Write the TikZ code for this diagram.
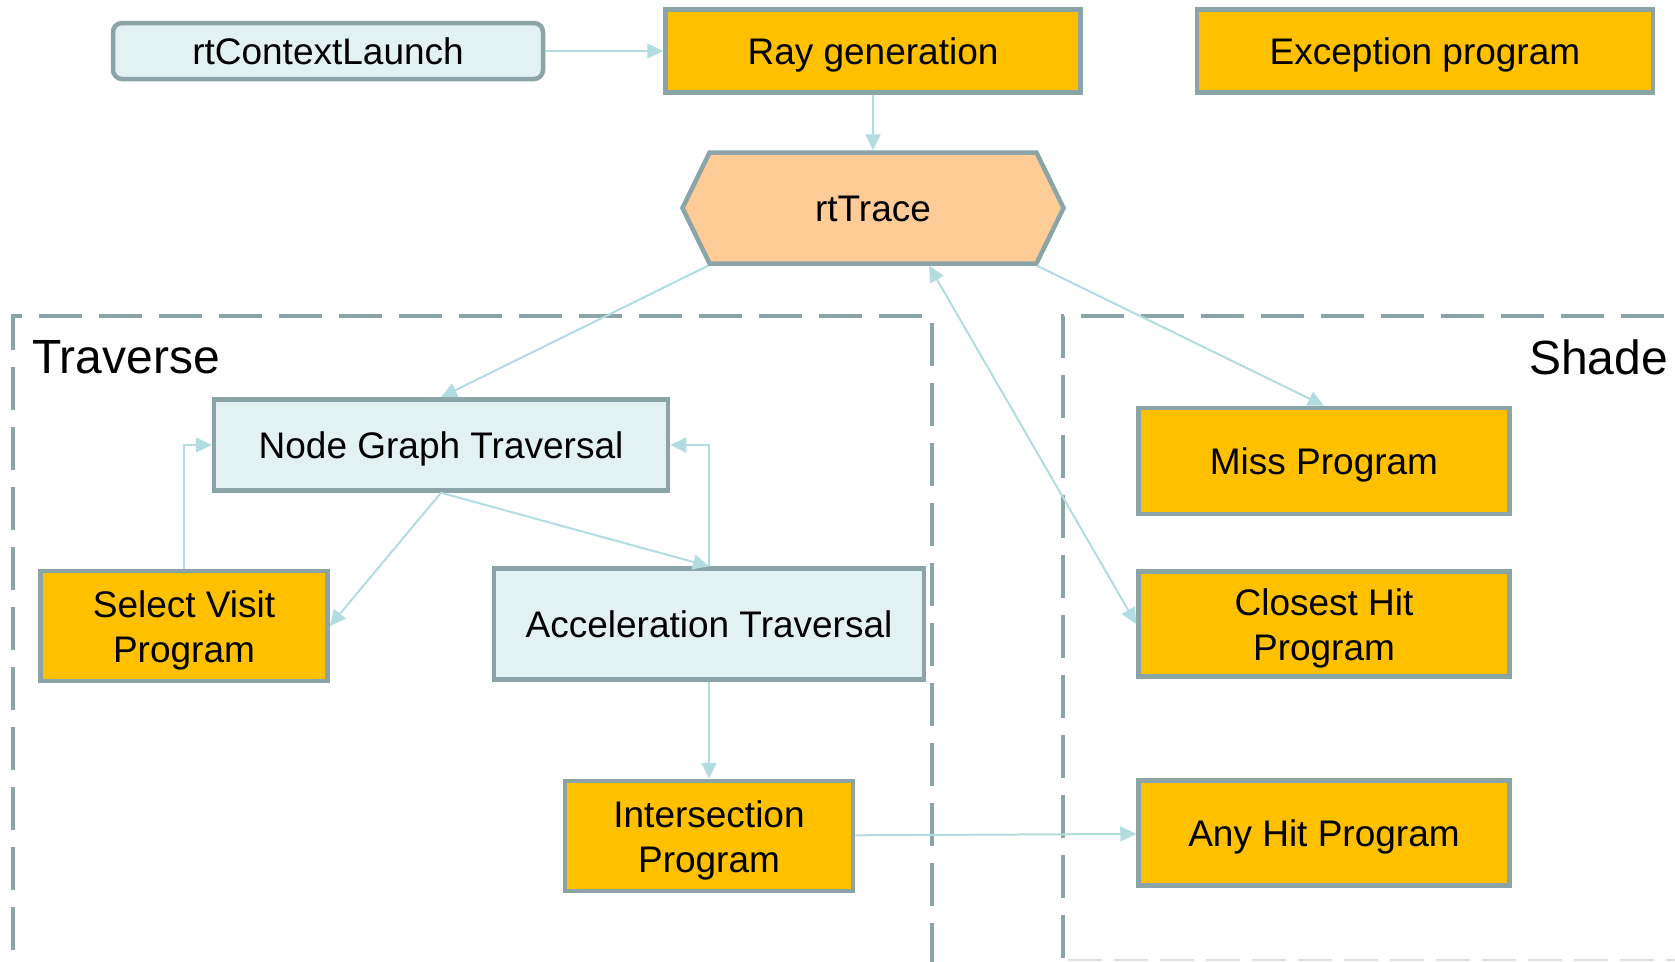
\documentclass[tikz,border=0pt]{standalone}
\usepackage{fontspec}
\setmainfont{Liberation Sans}
\usetikzlibrary{arrows.meta,shapes.symbols,calc}

\definecolor{boxgold}{HTML}{FFC000}
\definecolor{boxedge}{HTML}{8BA4A7}
\definecolor{boxpale}{HTML}{E2F2F2}
\definecolor{boxpeach}{HTML}{FFCB97}
\definecolor{flowline}{HTML}{B2DCE0}

% box text, set a little low as in the slide
\newcommand{\boxtext}[1]{\raisebox{-4.5pt}[\height][\depth]{\begin{tabular}{@{}c@{}}#1\end{tabular}}}

\begin{document}
\begin{tikzpicture}[x=1pt,y=-1pt,
every node/.append style = {font=\fontsize{37}{45}\selectfont, inner sep=0pt},
prog/.style = {draw=boxedge, line width=4.5pt, fill=boxgold},
stage/.style = {draw=boxedge, line width=4.5pt, fill=boxpale},
group/.style = {draw=boxedge, line width=4.5pt, dash pattern=on 43pt off 17pt},
flow/.style = {draw=flowline, line width=2pt, -{Triangle[length=16pt,width=15pt]}},
title/.style = {font=\fontsize{48}{56}\selectfont, anchor=west}]

        \useasboundingbox (0,0) rectangle (1675,961);

        % dashed groups
        \draw[group] (13,1010) -- (13,316) -- (932,316) -- (932,1010);
        \draw[group] (1063,958) -- (1063,316) -- (1720,316);
        \draw[gray!25, line width=2pt, dash pattern=on 34pt off 12pt] (1068,960) -- (1675,960);
        \node[title] (trav) at (32,357) {Traverse};
        \node[title] (shd) at (1529,357) {Shade};

        % top row
        \node[stage, rounded corners=9pt, minimum width=430pt, minimum height=56pt]
            (launch) at (328,51) {\boxtext{rtContextLaunch}};
        \node[prog, minimum width=415pt, minimum height=83pt] (raygen) at (873,51) {\boxtext{Ray generation}};
        \node[prog, minimum width=456pt, minimum height=83pt] (except) at (1425,51) {\boxtext{Exception program}};

        \node[draw=boxedge, line width=4.5pt, fill=boxpeach, shape=signal,
            signal to=west and east, signal pointer angle=128,
            minimum width=381pt, minimum height=111pt] (trace) at (873,208) {\boxtext{rtTrace}};

        % traverse
        \node[stage, minimum width=454pt, minimum height=91pt] (ngt) at (441,445) {\boxtext{Node Graph Traversal}};
        \node[prog, minimum width=287pt, minimum height=110pt] (visit) at (184,626) {\boxtext{Select Visit\\Program}};
        \node[stage, minimum width=430pt, minimum height=111pt] (accel) at (709,624) {\boxtext{Acceleration Traversal}};
        \node[prog, minimum width=288pt, minimum height=110pt] (isect) at (709,836) {\boxtext{Intersection\\Program}};

        % shade
        \node[prog, minimum width=371pt, minimum height=106pt] (miss) at (1324,461) {\boxtext{Miss Program}};
        \node[prog, minimum width=371pt, minimum height=105pt] (closest) at (1324,624) {\boxtext{Closest Hit\\Program}};
        \node[prog, minimum width=371pt, minimum height=105pt] (anyhit) at (1324,833) {\boxtext{Any Hit Program}};

        % connectors
        \draw[flow] (launch) -- (raygen);
        \draw[flow] (raygen) -- (trace);
        \draw[flow] ($(trace.south)+(-165,0)$) -- (ngt.north);
        \draw[flow] ($(trace.south)+(164,0)$) -- (miss.north);
        \draw[flow, {Triangle[length=16pt,width=15pt]}-{Triangle[length=16pt,width=15pt]}]
            ($(trace.south)+(56,0)$) -- (closest.west);
        \draw[flow] (ngt.south) -- (visit.east);
        \draw[flow] (ngt.south) -- (accel.north);
        \draw[flow] (visit.north) |- (ngt.west);
        \draw[flow] (accel.north) |- (ngt.east);
        \draw[flow] (accel) -- (isect);
        \draw[flow] (isect) -- (anyhit);

\end{tikzpicture}
\end{document}
